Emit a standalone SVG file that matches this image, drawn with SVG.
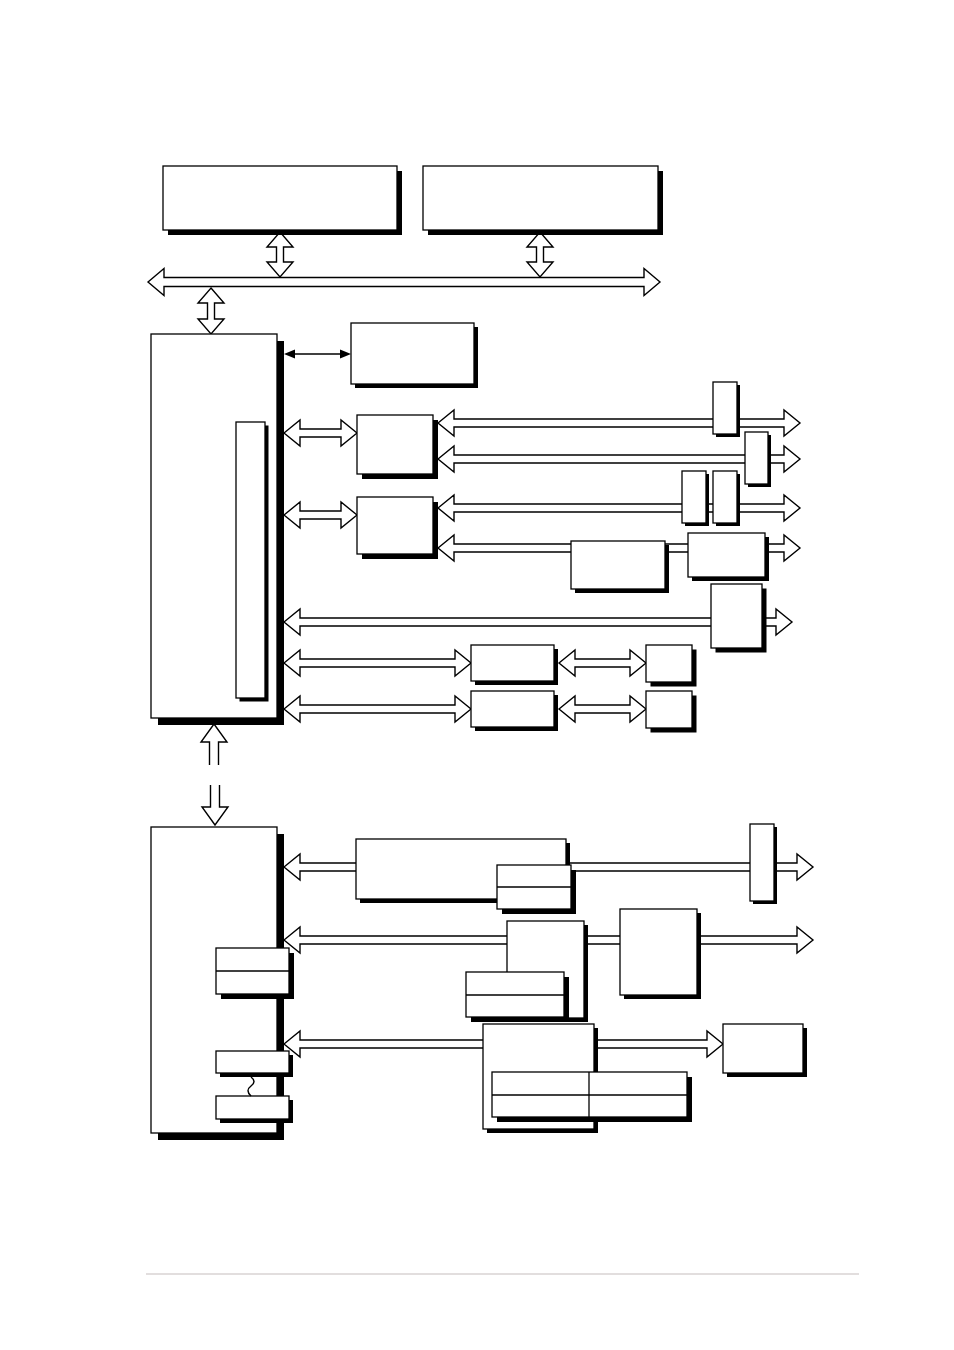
<svg xmlns="http://www.w3.org/2000/svg" width="954" height="1350" viewBox="0 0 954 1350">
<style>
.box{fill:#fff;stroke:#000;stroke-width:1.3}
.sh{fill:#000}
.fat{fill:#fff;stroke:#000;stroke-width:1.4;stroke-linejoin:miter}
.div{stroke:#000;stroke-width:1.3;fill:none}
</style>
<rect x="0" y="0" width="954" height="1350" fill="#fff"/>
<g id="connectors">
<polygon class="fat" points="148,282 164,268.5 164,277.5 644,277.5 644,268.5 660,282 644,295.5 644,286.5 164,286.5 164,295.5"/>
<polygon class="fat" points="280,232 293,247 283.5,247 283.5,262 293,262 280,277 267,262 276.5,262 276.5,247 267,247"/>
<polygon class="fat" points="540,232 553,247 543.5,247 543.5,262 553,262 540,277 527,262 536.5,262 536.5,247 527,247"/>
<polygon class="fat" points="211,288 224,303 214.5,303 214.5,319 224,319 211,334 198,319 207.5,319 207.5,303 198,303"/>
<line x1="294" y1="354" x2="341" y2="354" stroke="#000" stroke-width="1.5"/>
<polygon points="284,354 295,349.5 295,358.5" fill="#000"/>
<polygon points="351,354 340,349.5 340,358.5" fill="#000"/>
<polygon class="fat" points="284,433 300,420 300,429 341,429 341,420 357,433 341,446 341,437 300,437 300,446"/>
<polygon class="fat" points="284,515 300,502 300,511 341,511 341,502 357,515 341,528 341,519 300,519 300,528"/>
<polygon class="fat" points="438,423 454,410 454,419 784,419 784,410 800,423 784,436 784,427 454,427 454,436"/>
<polygon class="fat" points="438,459 454,446 454,455 784,455 784,446 800,459 784,472 784,463 454,463 454,472"/>
<polygon class="fat" points="438,508 454,495 454,504 784,504 784,495 800,508 784,521 784,512 454,512 454,521"/>
<polygon class="fat" points="438,548 454,535 454,544 784,544 784,535 800,548 784,561 784,552 454,552 454,561"/>
<polygon class="fat" points="284,622 300,609 300,618 776,618 776,609 792,622 776,635 776,626 300,626 300,635"/>
<polygon class="fat" points="284,663 300,650 300,659 455,659 455,650 471,663 455,676 455,667 300,667 300,676"/>
<polygon class="fat" points="559,663 575,650 575,659 630,659 630,650 646,663 630,676 630,667 575,667 575,676"/>
<polygon class="fat" points="284,709 300,696 300,705 455,705 455,696 471,709 455,722 455,713 300,713 300,722"/>
<polygon class="fat" points="559,709 575,696 575,705 630,705 630,696 646,709 630,722 630,713 575,713 575,722"/>
<path class="fat" d="M209.5,765 V742 H201 L214,724 L227,742 H218.5 V765"/>
<path class="fat" d="M210.5,785 V807 H202 L215,825 L228,807 H219.5 V785"/>
<polygon class="fat" points="284,867 300,854 300,863 797,863 797,854 813,867 797,880 797,871 300,871 300,880"/>
<polygon class="fat" points="284,940 300,927 300,936 797,936 797,927 813,940 797,953 797,944 300,944 300,953"/>
<polygon class="fat" points="284,1044 300,1031 300,1040 707,1040 707,1031 723,1044 707,1057 707,1048 300,1048 300,1057"/>
</g>
<g id="cpu1"><rect class="sh" x="168" y="171" width="234" height="64"/><rect class="box" x="163" y="166" width="234" height="64"/></g>
<g id="cpu2"><rect class="sh" x="428" y="171" width="235" height="64"/><rect class="box" x="423" y="166" width="235" height="64"/></g>
<g id="northbridge"><rect class="sh" x="158" y="341" width="126" height="384"/><rect class="box" x="151" y="334" width="126" height="384"/></g>
<g id="nb_inner"><rect class="sh" x="239.5" y="425.5" width="29" height="276"/><rect class="box" x="236" y="422" width="29" height="276"/></g>
<g id="memory"><rect class="sh" x="355" y="327" width="123" height="61"/><rect class="box" x="351" y="323" width="123" height="61"/></g>
<g id="bridge1"><rect class="sh" x="362" y="420" width="76" height="59"/><rect class="box" x="357" y="415" width="76" height="59"/></g>
<g id="bridge2"><rect class="sh" x="362" y="502" width="76" height="57"/><rect class="box" x="357" y="497" width="76" height="57"/></g>
<g id="slot1"><rect class="sh" x="716" y="385" width="24" height="52"/><rect class="box" x="713" y="382" width="24" height="52"/></g>
<g id="slot2"><rect class="sh" x="748" y="435" width="23" height="52"/><rect class="box" x="745" y="432" width="23" height="52"/></g>
<g id="slot3"><rect class="sh" x="685" y="474" width="24" height="52"/><rect class="box" x="682" y="471" width="24" height="52"/></g>
<g id="slot4"><rect class="sh" x="716" y="474" width="24" height="52"/><rect class="box" x="713" y="471" width="24" height="52"/></g>
<g id="row4a"><rect class="sh" x="575" y="545" width="94" height="48"/><rect class="box" x="571" y="541" width="94" height="48"/></g>
<g id="row4b"><rect class="sh" x="692" y="537" width="77" height="44"/><rect class="box" x="688" y="533" width="77" height="44"/></g>
<g id="row5"><rect class="sh" x="715.5" y="588.5" width="51" height="64"/><rect class="box" x="711" y="584" width="51" height="64"/></g>
<g id="row6a"><rect class="sh" x="475" y="649" width="83" height="36"/><rect class="box" x="471" y="645" width="83" height="36"/></g>
<g id="row6b"><rect class="sh" x="650.5" y="649.5" width="46" height="37"/><rect class="box" x="646" y="645" width="46" height="37"/></g>
<g id="row7a"><rect class="sh" x="475" y="695" width="83" height="36"/><rect class="box" x="471" y="691" width="83" height="36"/></g>
<g id="row7b"><rect class="sh" x="650.5" y="695.5" width="46" height="37"/><rect class="box" x="646" y="691" width="46" height="37"/></g>
<g id="southbridge"><rect class="sh" x="158" y="834" width="126" height="306"/><rect class="box" x="151" y="827" width="126" height="306"/></g>
<g id="sb_in1"><rect class="sh" x="221" y="953" width="73" height="46"/><rect class="box" x="216" y="948" width="73" height="46"/><line class="div" x1="216" y1="971" x2="289" y2="971"/></g>
<g id="sb_in2"><rect class="sh" x="220" y="1055" width="73" height="22"/><rect class="box" x="216" y="1051" width="73" height="22"/></g>
<g id="sb_in3"><rect class="sh" x="220" y="1100" width="73" height="23"/><rect class="box" x="216" y="1096" width="73" height="23"/></g>
<g id="wave_link"><path d="M251,1077 C255,1080 255,1083 251,1086 C247,1089 247,1092 251,1096" stroke="#000" stroke-width="1.5" fill="none"/></g>
<g id="wide"><rect class="sh" x="360" y="843" width="210" height="60"/><rect class="box" x="356" y="839" width="210" height="60"/></g>
<g id="wide_sub"><rect class="sh" x="502" y="870" width="74" height="44"/><rect class="box" x="497" y="865" width="74" height="44"/><line class="div" x1="497" y1="887" x2="571" y2="887"/></g>
<g id="narrow"><rect class="sh" x="753" y="827" width="24" height="77"/><rect class="box" x="750" y="824" width="24" height="77"/></g>
<g id="c1"><rect class="sh" x="511" y="925" width="77" height="97"/><rect class="box" x="507" y="921" width="77" height="97"/></g>
<g id="c1_sub"><rect class="sh" x="471" y="977" width="98" height="45"/><rect class="box" x="466" y="972" width="98" height="45"/><line class="div" x1="466" y1="995" x2="564" y2="995"/></g>
<g id="c2"><rect class="sh" x="624" y="913" width="77" height="86"/><rect class="box" x="620" y="909" width="77" height="86"/></g>
<g id="bigbox"><rect class="sh" x="487" y="1028" width="111" height="105"/><rect class="box" x="483" y="1024" width="111" height="105"/></g>
<g id="table"><rect class="sh" x="497" y="1077" width="195" height="45"/><rect class="box" x="492" y="1072" width="195" height="45"/><line class="div" x1="492" y1="1095" x2="687" y2="1095"/><line class="div" x1="589" y1="1072" x2="589" y2="1117"/></g>
<g id="rbox"><rect class="sh" x="727" y="1028" width="80" height="49"/><rect class="box" x="723" y="1024" width="80" height="49"/></g>
<rect x="146" y="1273" width="713" height="2" fill="#e2dede"/>
</svg>
